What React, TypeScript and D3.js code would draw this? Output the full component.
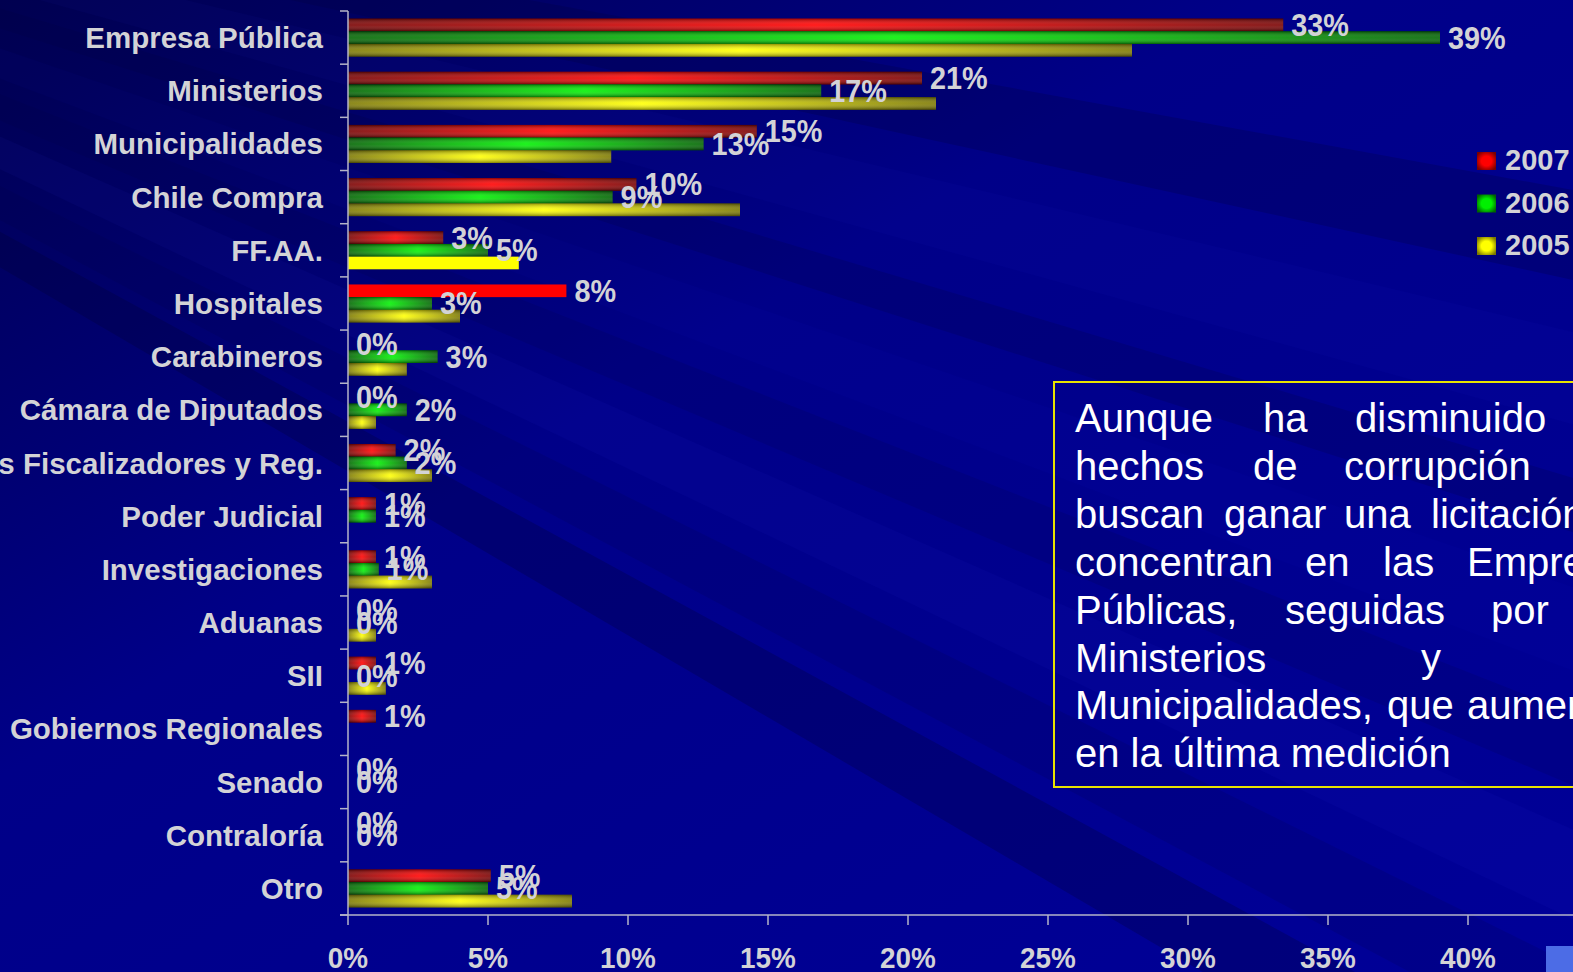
import React, { useEffect } from 'react';
import * as d3 from 'd3';

const categories = [
  'Empresa Pública', 'Ministerios', 'Municipalidades', 'Chile Compra', 'FF.AA.',
  'Hospitales', 'Carabineros', 'Cámara de Diputados', 'Organismos Fiscalizadores y Reg.',
  'Poder Judicial', 'Investigaciones', 'Aduanas', 'SII', 'Gobiernos Regionales',
  'Senado', 'Contraloría', 'Otro',
];
const years = ['2007', '2006', '2005'];
const v2007 = [33.4, 20.5, 14.6, 10.3, 3.4, 7.8, 0, 0, 1.7, 1.0, 1.0, 0, 1.0, 1.0, 0, 0, 5.1];
const v2006 = [39.0, 16.9, 12.7, 9.45, 5.0, 3.0, 3.2, 2.1, 2.1, 1.0, 1.1, 0, 0, null, 0, 0, 5.0];
const v2005 = [28.0, 21.0, 9.4, 14.0, 6.1, 4.0, 2.1, 1.0, 3.0, 0, 3.0, 1.0, 1.35, 0, 0, 0, 8.0];
const labeledYears = ['2007', '2006'];
const xTicks = [0, 5, 10, 15, 20, 25, 30, 35, 40];

// annotation lines (justified in the original slide, cut at the right edge)
const noteLines: [string, number][][] = [
  [['Aunque', 1075], ['ha', 1263], ['disminuido', 1355]],
  [['hechos', 1075], ['de', 1253], ['corrupción', 1344]],
  [['buscan', 1075], ['ganar', 1224], ['una', 1344], ['licitación,', 1431]],
  [['concentran', 1075], ['en', 1305], ['las', 1383], ['Empresas', 1467]],
  [['Públicas,', 1075], ['seguidas', 1285], ['por', 1491]],
  [['Ministerios', 1075], ['y', 1421]],
  [['Municipalidades,', 1075], ['que', 1387], ['aumentaron', 1467]],
  [['en la última medición', 1075]],
];

const W = 1573;
const H = 972;
const font = "'Liberation Sans', Arial, sans-serif";
const textGray = '#d3d3d6';

const seriesValues: Record<string, (number | null)[]> = { '2007': v2007, '2006': v2006, '2005': v2005 };
const colors: Record<string, { dark: string; bright: string }> = {
  '2007': { dark: '#780000', bright: '#ff0000' },
  '2006': { dark: '#006400', bright: '#00f000' },
  '2005': { dark: '#7c7800', bright: '#ffff00' },
};
const flatBars = ['FF.AA.|2005', 'Hospitales|2007'];

const x = d3.scaleLinear().domain([0, 40]).range([348, 1468]);
const y = d3.scaleBand<string>().domain(categories).range([11, 915]).paddingInner(0.285).paddingOuter(0.1425);
const ys = d3.scaleBand<string>().domain(years).range([0, y.bandwidth()]);

// light/dark rays of the slide background
const rayOrigin = [-900, -260];
const rays = [
  { a: 0.18, b: 0.215, fill: '#000040', op: 0.25 },
  { a: 0.235, b: 0.27, fill: '#3030ff', op: 0.04 },
  { a: 0.29, b: 0.31, fill: '#000040', op: 0.2 },
  { a: 0.33, b: 0.36, fill: '#2a2aff', op: 0.035 },
  { a: 0.375, b: 0.40, fill: '#000040', op: 0.15 },
  { a: 0.415, b: 0.445, fill: '#3a3aff', op: 0.05 },
  { a: 0.46, b: 0.49, fill: '#000040', op: 0.15 },
  { a: 0.50, b: 0.53, fill: '#000030', op: 0.25 },
];
const rayPath = (a: number, b: number) => {
  const [ox, oy] = rayOrigin;
  const L = 4000;
  return `M${ox},${oy}L${ox + L * Math.cos(a)},${oy + L * Math.sin(a)}L${ox + L * Math.cos(b)},${oy + L * Math.sin(b)}Z`;
};

const App = () => {
  useEffect(() => {
    document.body.style.margin = '0';
    document.body.style.overflow = 'hidden';
  }, []);

  return (
    <svg width={W} height={H} style={{ display: 'block' }} fontFamily={font}>
      <defs>
        <linearGradient id="bg" x1="0" y1="0" x2="1" y2="1">
          <stop offset="0" stopColor="#000050" />
          <stop offset="0.4" stopColor="#000088" />
          <stop offset="1" stopColor="#000098" />
        </linearGradient>
        {years.map((yr) => (
          <linearGradient key={yr} id={`h-${yr}`} x1="0" y1="0" x2="1" y2="0">
            <stop offset="0" stopColor={colors[yr].dark} />
            <stop offset="0.5" stopColor={colors[yr].bright} />
            <stop offset="1" stopColor={colors[yr].dark} />
          </linearGradient>
        ))}
        {years.map((yr) => (
          <radialGradient key={yr} id={`r-${yr}`} cx="0.5" cy="0.5" r="0.6">
            <stop offset="0" stopColor={colors[yr].bright} />
            <stop offset="0.45" stopColor={colors[yr].bright} />
            <stop offset="1" stopColor={colors[yr].dark} />
          </radialGradient>
        ))}
        <linearGradient id="vshade" x1="0" y1="0" x2="0" y2="1">
          <stop offset="0" stopColor="#000" stopOpacity="0.4" />
          <stop offset="0.45" stopColor="#fff" stopOpacity="0.12" />
          <stop offset="0.55" stopColor="#fff" stopOpacity="0.12" />
          <stop offset="1" stopColor="#000" stopOpacity="0.45" />
        </linearGradient>
      </defs>

      <rect width={W} height={H} fill="url(#bg)" />
      {rays.map((r, i) => (
        <path key={i} d={rayPath(r.a, r.b)} fill={r.fill} opacity={r.op} />
      ))}
      <rect x={1546} y={946} width={30} height={30} fill="#4c6ce6" />

      {/* bars */}
      {categories.map((c, i) => (
        <g key={c}>
          {years.map((yr) => {
            const v = seriesValues[yr][i];
            if (v == null || v <= 0) return null;
            const by = (y(c) as number) + (ys(yr) as number);
            const bh = ys.bandwidth();
            const flat = flatBars.includes(`${c}|${yr}`);
            return (
              <g key={yr}>
                <rect x={x(0)} y={by} width={x(v) - x(0)} height={bh}
                  fill={flat ? colors[yr].bright : `url(#h-${yr})`} />
                {!flat && <rect x={x(0)} y={by} width={x(v) - x(0)} height={bh} fill="url(#vshade)" />}
              </g>
            );
          })}
        </g>
      ))}

      {/* axes */}
      <line x1={x(0)} x2={x(0)} y1={11} y2={915} stroke="#b4b4c8" strokeWidth={1.5} />
      {d3.range(categories.length + 1).map((k) => {
        const ty = 11 + k * y.step();
        return <line key={k} x1={340} x2={x(0)} y1={ty} y2={ty} stroke="#b4b4c8" strokeWidth={1.5} />;
      })}
      <line x1={340} x2={W} y1={915} y2={915} stroke="#b4b4c8" strokeWidth={1.5} />
      {xTicks.map((t) => (
        <g key={t}>
          <line x1={x(t)} x2={x(t)} y1={915} y2={925} stroke="#b4b4c8" strokeWidth={1.5} />
          <text transform={`translate(${x(t)},968) scale(0.93,1)`} textAnchor="middle"
            fontSize={30} fontWeight="bold" fill={textGray}>{t}%</text>
        </g>
      ))}

      {/* category labels */}
      {categories.map((c) => (
        <text key={c} x={323} y={(y(c) as number) + y.bandwidth() / 2 + 10.5} textAnchor="end"
          fontSize={29.5} fontWeight="bold" fill={textGray}>{c}</text>
      ))}

      {/* data labels */}
      {categories.map((c, i) => (
        <g key={c}>
          {labeledYears.map((yr) => {
            const v = seriesValues[yr][i];
            if (v == null) return null;
            const cy = (y(c) as number) + (ys(yr) as number) + ys.bandwidth() / 2;
            return (
              <text key={yr} transform={`translate(${x(v) + 8},${cy + 11}) scale(0.93,1)`}
                fontSize={31} fontWeight="bold" fill={textGray}>{Math.round(v)}%</text>
            );
          })}
        </g>
      ))}

      {/* legend */}
      {years.map((yr, k) => (
        <g key={yr} transform={`translate(1477,${152 + k * 42.5})`}>
          <rect width={19} height={18} fill={`url(#r-${yr})`} />
          <text x={28} y={18} fontSize={29} fontWeight="bold" fill={textGray}>{yr}</text>
        </g>
      ))}

      {/* annotation */}
      <rect x={1054} y={382} width={600} height={405} fill="none" stroke="#e8e400" strokeWidth={2} />
      {noteLines.map((line, li) => (
        <text key={li} y={432 + li * 47.9} fontSize={40} fill="#ffffff">
          {line.map(([w, wx]) => (
            <tspan key={w} x={wx}>{w}</tspan>
          ))}
        </text>
      ))}
    </svg>
  );
};

export default App;
